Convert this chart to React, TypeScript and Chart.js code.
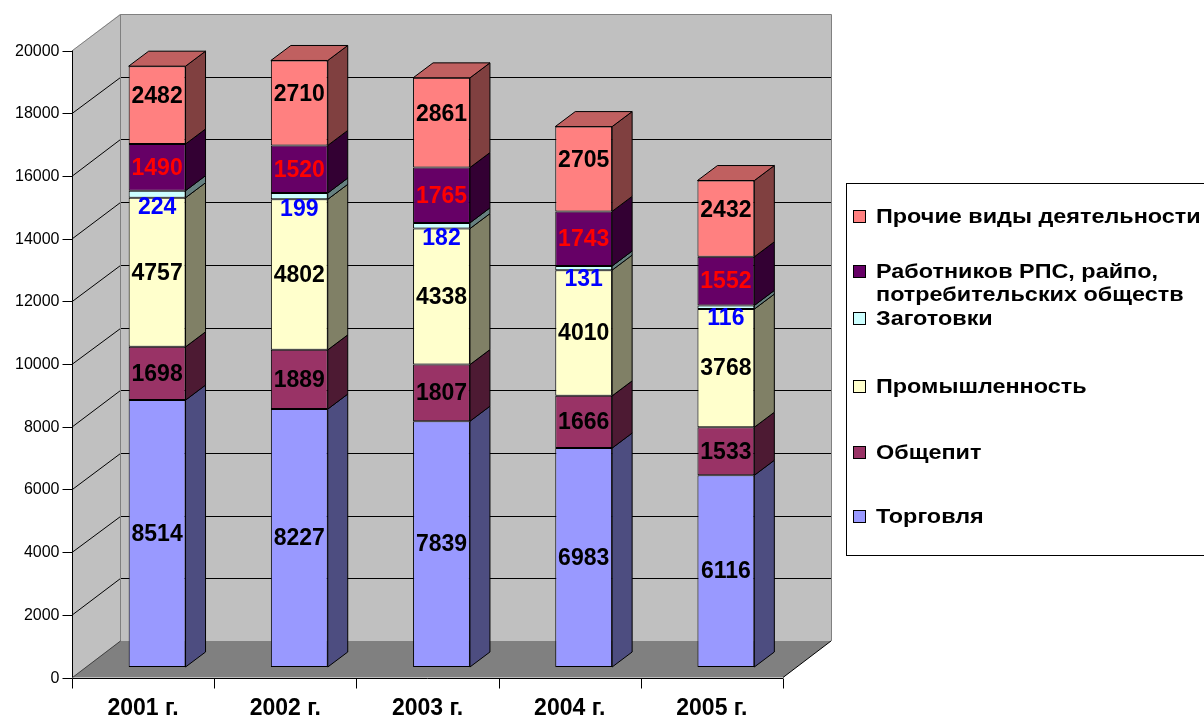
import React, { useEffect, useRef } from "react";
import { Chart, registerables } from "chart.js";

Chart.register(...registerables);

const years = ["2001 г.", "2002 г.", "2003 г.", "2004 г.", "2005 г."];
const torgovlya = [8514, 8227, 7839, 6983, 6116];
const obshchepit = [1698, 1889, 1807, 1666, 1533];
const promyshlennost = [4757, 4802, 4338, 4010, 3768];
const zagotovki = [224, 199, 182, 131, 116];
const rabotnikov = [1490, 1520, 1765, 1743, 1552];
const prochie = [2482, 2710, 2861, 2705, 2432];
const yTicks = [0, 2000, 4000, 6000, 8000, 10000, 12000, 14000, 16000, 18000, 20000];
const yTickLabels = ["0", "2000", "4000", "6000", "8000", "10000", "12000", "14000", "16000", "18000", "20000"];

const seriesNames = [
  ["Торговля"],
  ["Общепит"],
  ["Промышленность"],
  ["Заготовки"],
  ["Работников РПС, райпо,", "потребительских обществ"],
  ["Прочие виды деятельности"],
];
const seriesData = [torgovlya, obshchepit, promyshlennost, zagotovki, rabotnikov, prochie];
const frontColors = ["#9999FF", "#993366", "#FFFFCC", "#CCFFFF", "#660066", "#FF8080"];
const sideColors = ["#4D4D80", "#4D1A33", "#808066", "#668080", "#330033", "#804040"];
const topColor = "#C06060";
const labelColors = ["#000000", "#000000", "#000000", "#0000FF", "#FF0000", "#000000"];

const FONT = 'Arial, "Liberation Sans", sans-serif';
// depth offsets relative to the bar front plane
const FX = -14, FY = 10.5; // front (axis) plane
const WX = 34, WY = -26; // back wall
const BX = 20, BY = -15; // bar depth
const LEGEND_STRETCH = 1.17;

function poly(ctx: CanvasRenderingContext2D, pts: number[][], fill?: string, stroke?: string) {
  ctx.beginPath();
  ctx.moveTo(pts[0][0], pts[0][1]);
  for (let i = 1; i < pts.length; i++) ctx.lineTo(pts[i][0], pts[i][1]);
  ctx.closePath();
  if (fill) {
    ctx.fillStyle = fill;
    ctx.fill();
  }
  if (stroke) {
    ctx.strokeStyle = stroke;
    ctx.lineWidth = 1;
    ctx.stroke();
  }
}

function line(ctx: CanvasRenderingContext2D, x1: number, y1: number, x2: number, y2: number, color: string) {
  ctx.beginPath();
  ctx.moveTo(x1, y1);
  ctx.lineTo(x2, y2);
  ctx.strokeStyle = color;
  ctx.lineWidth = 1;
  ctx.stroke();
}

const fake3d = {
  id: "fake3d",
  beforeDatasetsDraw(chart: any) {
    const ctx: CanvasRenderingContext2D = chart.ctx;
    const xs = chart.scales.x;
    const ys = chart.scales.y;
    const L = chart.chartArea.left;
    const R = chart.chartArea.right;
    const y0 = ys.getPixelForValue(0);
    const yMax = ys.getPixelForValue(yTicks[yTicks.length - 1]);
    ctx.save();
    // back wall
    poly(ctx, [[L + WX, yMax + WY], [R + WX, yMax + WY], [R + WX, y0 + WY], [L + WX, y0 + WY]], "#C0C0C0");
    // left wall
    poly(ctx, [[L + FX, y0 + FY], [L + FX, yMax + FY], [L + WX, yMax + WY], [L + WX, y0 + WY]], "#C0C0C0");
    // floor
    poly(ctx, [[L + FX, y0 + FY], [R + FX, y0 + FY], [R + WX, y0 + WY], [L + WX, y0 + WY]], "#808080");
    // gridlines
    for (let i = 1; i < yTicks.length - 1; i++) {
      const yy = ys.getPixelForValue(yTicks[i]);
      const yb = Math.round(yy + WY) + 0.5;
      line(ctx, L + FX + 0.5, yy + FY, L + WX + 0.5, yb, "#000000");
      line(ctx, L + WX + 0.5, yb, R + WX, yb, "#000000");
    }
    // wall borders
    const xb = Math.round(L + WX) + 0.5;
    const ytop = Math.round(yMax + WY) + 0.5;
    line(ctx, xb, ytop, xb, y0 + WY, "#808080");
    line(ctx, xb, ytop, R + WX + 0.5, ytop, "#808080");
    line(ctx, R + WX + 0.5, ytop, R + WX + 0.5, y0 + WY, "#808080");
    line(ctx, L + FX + 0.5, yMax + FY, xb, ytop, "#808080");
    // floor edges
    line(ctx, L + FX + 0.5, y0 + FY, xb, y0 + WY, "#404040");
    line(ctx, R + FX, y0 + FY, R + WX, y0 + WY, "#000000");
    // y axis
    const xa = Math.round(L + FX) + 0.5;
    line(ctx, xa, yMax + FY, xa, y0 + FY, "#000000");
    ctx.font = `16px ${FONT}`;
    ctx.fillStyle = "#000000";
    ctx.textAlign = "right";
    ctx.textBaseline = "middle";
    for (let i = 0; i < yTicks.length; i++) {
      const yy = Math.round(ys.getPixelForValue(yTicks[i]) + FY) + 0.5;
      line(ctx, xa - 10, yy, xa, yy, "#000000");
      ctx.fillText(yTickLabels[i], xa - 13, yy);
    }
    // x axis
    const ya = Math.round(y0 + FY) + 0.5;
    line(ctx, xa, ya, R + FX, ya, "#000000");
    const n = years.length;
    const step = (R - L) / n;
    for (let i = 0; i <= n; i++) {
      const xx = Math.round(L + FX + i * step) + 0.5;
      line(ctx, xx, ya, xx, ya + 10, "#000000");
    }
    ctx.font = `bold 23px ${FONT}`;
    ctx.textAlign = "center";
    for (let i = 0; i < n; i++) {
      ctx.fillText(years[i], xs.getPixelForValue(i) + FX, 709);
    }
    ctx.restore();
  },
  afterDatasetsDraw(chart: any) {
    const ctx: CanvasRenderingContext2D = chart.ctx;
    ctx.save();
    const nd = chart.data.datasets.length;
    for (let d = 0; d < nd; d++) {
      const meta = chart.getDatasetMeta(d);
      meta.data.forEach((el: any) => {
        const Lx = el.x - el.width / 2;
        const Rx = el.x + el.width / 2;
        const T = el.y;
        const B = el.base;
        poly(ctx, [[Rx, T], [Rx + BX, T + BY], [Rx + BX, B + BY], [Rx, B]], sideColors[d], "#000000");
        if (d === nd - 1) {
          poly(ctx, [[Lx, T], [Lx + BX, T + BY], [Rx + BX, T + BY], [Rx, T]], topColor, "#000000");
        }
      });
    }
    // data labels
    ctx.font = `bold 23px ${FONT}`;
    ctx.textAlign = "center";
    ctx.textBaseline = "middle";
    for (let d = 0; d < nd; d++) {
      const meta = chart.getDatasetMeta(d);
      meta.data.forEach((el: any, i: number) => {
        let ly = (el.y + el.base) / 2;
        if (d === 3) ly = el.base + 9;
        if (d === nd - 1) ly = (el.base + el.y + BY) / 2 - 2;
        ctx.fillStyle = labelColors[d];
        ctx.fillText(String(seriesData[d][i]), el.x, ly + 1);
      });
    }
    ctx.restore();
  },
  afterDraw(chart: any) {
    const ctx: CanvasRenderingContext2D = chart.ctx;
    ctx.save();
    ctx.fillStyle = "#FFFFFF";
    ctx.fillRect(847, 184, 400, 372);
    ctx.strokeStyle = "#000000";
    ctx.lineWidth = 1;
    ctx.strokeRect(846.5, 183.5, 400, 372);
    const baselines = [523, 459, 393, 325, 278, 223];
    ctx.textAlign = "left";
    ctx.textBaseline = "alphabetic";
    for (let d = seriesNames.length - 1; d >= 0; d--) {
      const b = baselines[d];
      ctx.fillStyle = frontColors[d];
      ctx.fillRect(853, b - 13, 13, 13);
      ctx.strokeStyle = "#000000";
      ctx.strokeRect(853.5, b - 12.5, 12, 12);
      ctx.fillStyle = "#000000";
      seriesNames[d].forEach((t, k) => {
        ctx.save();
        ctx.translate(876, b + k * 23);
        ctx.scale(LEGEND_STRETCH, 1);
        ctx.font = `bold 20px ${FONT}`;
        ctx.fillText(t, 0, 0);
        ctx.restore();
      });
    }
    ctx.restore();
  },
};

export default function App() {
  const ref = useRef<HTMLCanvasElement | null>(null);
  useEffect(() => {
    if (!ref.current) return;
    const chart = new Chart(ref.current, {
      type: "bar",
      data: {
        labels: years,
        datasets: seriesData.map((data, d) => ({
          label: seriesNames[d].join(" "),
          data,
          backgroundColor: frontColors[d],
          borderColor: "#000000",
          borderWidth: 1,
          borderSkipped: false,
          categoryPercentage: 1,
          barPercentage: 0.4,
        })),
      },
      options: {
        responsive: false,
        animation: false,
        devicePixelRatio: 1,
        layout: { padding: { left: 86, right: 407, top: 40, bottom: 51 } },
        scales: {
          x: { stacked: true, display: false },
          y: { stacked: true, display: false, min: 0, max: 20000 },
        },
        plugins: {
          legend: { display: false },
          tooltip: { enabled: false },
        },
      },
      plugins: [fake3d],
    });
    return () => chart.destroy();
  }, []);
  return (
    <div style={{ position: "fixed", left: 0, top: 0, width: 1204, height: 718, background: "#FFFFFF" }}>
      <canvas ref={ref} width={1204} height={718} style={{ display: "block" }} />
    </div>
  );
}
